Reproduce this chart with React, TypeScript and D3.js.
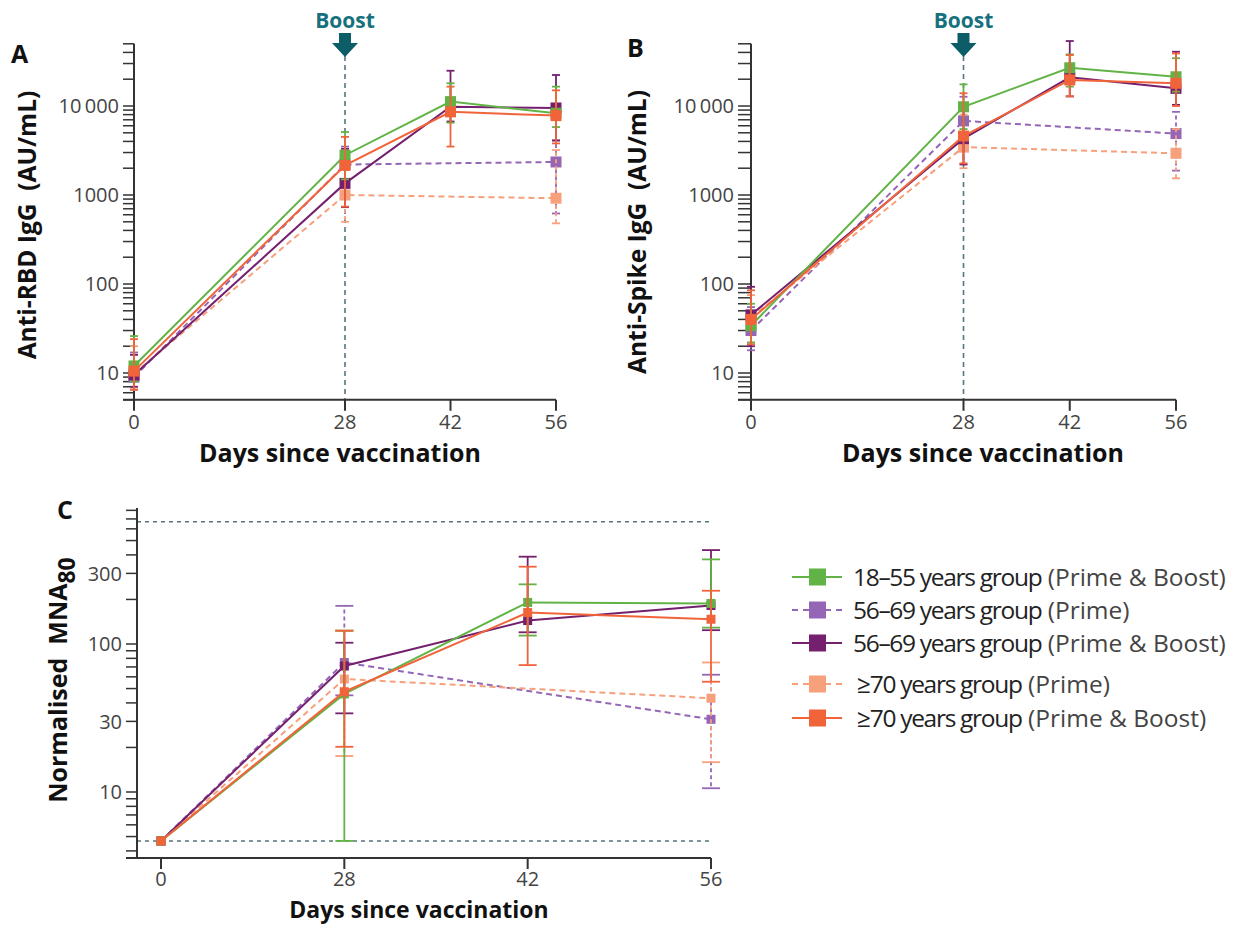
import React from 'react';
import * as d3 from 'd3';

// ---------- data ----------
const days = [0, 28, 42, 56];
const seriesLabels = ['18–55 years group', '56–69 years group', '56–69 years group', '≥70 years group', '≥70 years group'];
const seriesRegimen = ['(Prime & Boost)', '(Prime)', '(Prime & Boost)', '(Prime)', '(Prime & Boost)'];
const seriesColors = ['#62b346', '#9466b5', '#74206f', '#f7a07c', '#f1643a'];
const seriesDashed = [false, true, false, true, false];
const drawOrder = [1, 3, 2, 0, 4];

// Panel A: Anti-RBD IgG (AU/mL)
const rbdValue = [
  [12, 2800, 11200, 8300],
  [9, 2200, null, 2350],
  [9.5, 1350, 9800, 9500],
  [9.8, 1000, null, 920],
  [10.5, 2150, 8600, 7800],
];
const rbdLow = [
  [8, 1500, 6500, 5800],
  [6.5, 1300, null, 620],
  [7, 730, 6700, 4100],
  [6.5, 500, null, 480],
  [6.5, 740, 3500, 3800],
];
const rbdHigh = [
  [26, 5100, 18000, 16500],
  [17, 3500, null, 4100],
  [16, 3300, 24900, 22300],
  [20, 2000, null, 3200],
  [24, 4500, 16500, 15000],
];

// Panel B: Anti-Spike IgG (AU/mL)
const spikeValue = [
  [34, 9800, 26900, 21300],
  [30, 6800, null, 4900],
  [45, 4300, 21000, 15800],
  [42, 3450, null, 2940],
  [40, 4600, 19600, 18000],
];
const spikeLow = [
  [22, 5500, 16500, 14500],
  [18, 3500, null, 1880],
  [20, 2200, 12800, 10300],
  [22, 2000, null, 1540],
  [21, 2270, 12900, 10000],
];
const spikeHigh = [
  [60, 17500, 38000, 34400],
  [55, 12700, null, 8600],
  [93, 10000, 53700, 40700],
  [75, 8000, null, 5500],
  [85, 13900, 37400, 39000],
];

// Panel C: Normalised MNA80
const mnaValue = [
  [4.67, 46, 191, 188],
  [4.67, 75, null, 31],
  [4.67, 71, 144, 182],
  [4.67, 58, null, 43],
  [4.67, 47.6, 163, 147],
];
const mnaLow = [
  [4.67, 4.67, 114, 129],
  [4.67, 45, null, 10.6],
  [4.67, 34, 120, 124],
  [4.67, 17.5, null, 15.9],
  [4.67, 20.2, 72, 55.6],
];
const mnaHigh = [
  [4.67, 123, 253, 373],
  [4.67, 181, null, 62],
  [4.67, 102, 389, 431],
  [4.67, 123, null, 75],
  [4.67, 123, 333, 229],
];
const mnaLimits = [4.67, 670];

const igTickValues = [10, 100, 1000, 10000];
const igTickLabels = ['10', '100', '1000', '10\u2009000'];
const mnaTickValues = [10, 30, 100, 300];
const mnaTickLabels = ['10', '30', '100', '300'];
const boostDay = 28;

// ---------- helpers ----------
const FONT = "'Open Sans', 'Noto Sans', 'DejaVu Sans', sans-serif";
const AXIS = '#333';
const TEAL = '#0c5d68';
const REF = '#56747e';

function minorTicks(lo: number, hi: number) {
  const out: number[] = [];
  for (let k = -1; k < 7; k++) {
    for (let m = 1; m < 10; m++) {
      const v = m * Math.pow(10, k);
      if (v >= lo * 0.999 && v <= hi * 1.001) out.push(v);
    }
  }
  return out;
}

type PanelProps = {
  xOf: (i: number) => number;
  y: d3.ScaleLogarithmic<number, number>;
  yLo: number;
  yHi: number;
  axisX: number;
  tickLen: number;
  xAxisStart: number;
  xAxisEnd: number;
  values: (number | null)[][];
  lows: (number | null)[][];
  highs: (number | null)[][];
  capHalf: number;
  markerSize: number;
  tickValues: number[];
  tickLabels: string[];
  xLabelOffset: number;
};

function Panel(p: PanelProps) {
  const yBottom = p.y(p.yLo);
  const yTop = p.y(p.yHi);
  const ticks = minorTicks(p.yLo, p.yHi);
  const line = d3
    .line<[number, number]>()
    .x((d) => d[0])
    .y((d) => d[1]);
  return (
    <g>
      {/* y axis */}
      <line x1={p.axisX} x2={p.axisX} y1={yTop} y2={yBottom} stroke={AXIS} strokeWidth={2} />
      {ticks.map((t, i) => (
        <line key={i} x1={p.axisX - p.tickLen} x2={p.axisX} y1={p.y(t)} y2={p.y(t)} stroke={AXIS} strokeWidth={1.5} />
      ))}
      {p.tickValues.map((t, i) => (
        <text key={i} x={p.axisX - p.tickLen - 4} y={p.y(t)} dy="0.36em" textAnchor="end" fontFamily={FONT} fontSize={20} fill="#444">
          {p.tickLabels[i]}
        </text>
      ))}
      {/* x axis */}
      <line x1={p.xAxisStart} x2={p.xAxisEnd} y1={yBottom} y2={yBottom} stroke={AXIS} strokeWidth={2} />
      {days.map((d, i) => (
        <g key={d}>
          <line x1={p.xOf(i)} x2={p.xOf(i)} y1={yBottom} y2={yBottom + 11} stroke={AXIS} strokeWidth={2} />
          <text x={p.xOf(i)} y={yBottom + p.xLabelOffset} textAnchor="middle" fontFamily={FONT} fontSize={20} fill="#444">
            {d}
          </text>
        </g>
      ))}
      {/* series */}
      {drawOrder.map((s) => {
        const pts: [number, number][] = [];
        p.values[s].forEach((v, i) => {
          if (v != null) pts.push([p.xOf(i), p.y(v)]);
        });
        const dash = seriesDashed[s] ? '6,4' : undefined;
        const col = seriesColors[s];
        return (
          <g key={s}>
            <path d={line(pts) || ''} fill="none" stroke={col} strokeWidth={2} strokeDasharray={dash} />
            {p.values[s].map((v, i) => {
              if (v == null) return null;
              const lo = p.lows[s][i] as number;
              const hi = p.highs[s][i] as number;
              const x = p.xOf(i);
              return (
                <g key={i}>
                  {hi > v && (
                    <g>
                      <line x1={x} x2={x} y1={p.y(v)} y2={p.y(hi)} stroke={col} strokeWidth={1.8} strokeDasharray={seriesDashed[s] ? '4,3' : undefined} />
                      <line x1={x - p.capHalf} x2={x + p.capHalf} y1={p.y(hi)} y2={p.y(hi)} stroke={col} strokeWidth={1.8} />
                    </g>
                  )}
                  {lo < v && (
                    <g>
                      <line x1={x} x2={x} y1={p.y(v)} y2={p.y(lo)} stroke={col} strokeWidth={1.8} strokeDasharray={seriesDashed[s] ? '4,3' : undefined} />
                      <line x1={x - p.capHalf} x2={x + p.capHalf} y1={p.y(lo)} y2={p.y(lo)} stroke={col} strokeWidth={1.8} />
                    </g>
                  )}
                </g>
              );
            })}
            {p.values[s].map((v, i) =>
              v == null ? null : (
                <rect
                  key={'m' + i}
                  x={p.xOf(i) - p.markerSize / 2}
                  y={p.y(v) - p.markerSize / 2}
                  width={p.markerSize}
                  height={p.markerSize}
                  fill={col}
                />
              )
            )}
          </g>
        );
      })}
    </g>
  );
}

function Boost({ x, yBottom }: { x: number; yBottom: number }) {
  return (
    <g>
      <line x1={x} x2={x} y1={56} y2={yBottom} stroke={REF} strokeWidth={1.6} strokeDasharray="5,4" />
      <text x={x} y={28} textAnchor="middle" fontFamily={FONT} fontWeight={700} fontSize={21} fill="#17707e">
        Boost
      </text>
      <path d={`M${x - 6},33 H${x + 6} V43 H${x + 13} L${x},57 L${x - 13},43 H${x - 6} Z`} fill={TEAL} />
    </g>
  );
}

export default function App() {
  // Panel A
  const xA = d3.scaleLinear().domain([0, 56]).range([134, 556]);
  const yAB = d3.scaleLog().domain([10, 10000]).range([373, 106]);
  // Panel B
  const xB = d3.scaleLinear().domain([0, 56]).range([751, 1176]);
  // Panel C
  const xC = d3.scalePoint<number>().domain(days).range([161, 711]);
  const yC = d3.scaleLog().domain([10, 100]).range([792, 644]);
  const cLo = yC.invert(858);
  const cHi = yC.invert(508);

  const legendRows = [577, 610, 643, 684, 718];

  return (
    <svg width={1233} height={926} style={{ position: 'absolute', left: 0, top: 0, background: '#fff' }}>
      <rect width={1233} height={926} fill="#fff" />
      {/* Panel A */}
      <text x={11} y={63} fontFamily={FONT} fontWeight={700} fontSize={25} fill="#111">A</text>
      <Boost x={xA(boostDay)} yBottom={yAB(5)} />
      <Panel
        xOf={(i) => xA(days[i])}
        y={yAB}
        yLo={5}
        yHi={50000}
        axisX={134}
        tickLen={11}
        xAxisStart={123}
        xAxisEnd={556}
        values={rbdValue}
        lows={rbdLow}
        highs={rbdHigh}
        capHalf={4}
        markerSize={11}
        tickValues={igTickValues}
        tickLabels={igTickLabels}
        xLabelOffset={29}
      />
      <text transform="translate(36,225) rotate(-90)" textAnchor="middle" fontFamily={FONT} fontWeight={700} fontSize={24.5} fill="#111">
        Anti-RBD IgG{'\u00a0\u00a0'}(AU/mL)
      </text>
      <text x={340} y={462} textAnchor="middle" fontFamily={FONT} fontWeight={700} fontSize={25} fill="#111">
        Days since vaccination
      </text>

      {/* Panel B */}
      <text x={627} y={57} fontFamily={FONT} fontWeight={700} fontSize={25} fill="#111">B</text>
      <Boost x={xB(boostDay)} yBottom={yAB(5)} />
      <Panel
        xOf={(i) => xB(days[i])}
        y={yAB}
        yLo={5}
        yHi={50000}
        axisX={751}
        tickLen={13}
        xAxisStart={738}
        xAxisEnd={1176}
        values={spikeValue}
        lows={spikeLow}
        highs={spikeHigh}
        capHalf={4}
        markerSize={11}
        tickValues={igTickValues}
        tickLabels={igTickLabels}
        xLabelOffset={29}
      />
      <text transform="translate(646,232) rotate(-90)" textAnchor="middle" fontFamily={FONT} fontWeight={700} fontSize={24.5} fill="#111">
        Anti-Spike IgG{'\u00a0\u00a0'}(AU/mL)
      </text>
      <text x={983} y={462} textAnchor="middle" fontFamily={FONT} fontWeight={700} fontSize={25} fill="#111">
        Days since vaccination
      </text>

      {/* Panel C */}
      <text x={57} y={519} fontFamily={FONT} fontWeight={700} fontSize={25} fill="#111">C</text>
      {mnaLimits.map((v, i) => (
        <line key={i} x1={137} x2={711} y1={yC(v)} y2={yC(v)} stroke={REF} strokeWidth={1.6} strokeDasharray="4,4" />
      ))}
      <Panel
        xOf={(i) => xC(days[i]) as number}
        y={yC}
        yLo={cLo}
        yHi={cHi}
        axisX={137}
        tickLen={11}
        xAxisStart={126}
        xAxisEnd={711}
        values={mnaValue}
        lows={mnaLow}
        highs={mnaHigh}
        capHalf={9}
        markerSize={9}
        tickValues={mnaTickValues}
        tickLabels={mnaTickLabels}
        xLabelOffset={28}
      />
      <text transform="translate(67,680) rotate(-90)" textAnchor="middle" fontFamily={FONT} fontWeight={700} fontSize={25} fill="#111">
        Normalised{'\u00a0\u00a0'}MNA<tspan dy={8} fontSize={23}>80</tspan>
      </text>
      <text x={419} y={918} textAnchor="middle" fontFamily={FONT} fontWeight={700} fontSize={23} fill="#111">
        Days since vaccination
      </text>

      {/* Legend */}
      {seriesLabels.map((lab, i) => {
        const y = legendRows[i];
        return (
          <g key={i}>
            <line x1={792} x2={842} y1={y} y2={y} stroke={seriesColors[i]} strokeWidth={2} strokeDasharray={seriesDashed[i] ? '6,5' : undefined} />
            <rect x={809} y={y - 8.5} width={17} height={17} fill={seriesColors[i]} />
            <text x={i === 3 || i === 4 ? 857 : 853} y={y} dy="0.36em" fontFamily={FONT} fontSize={24.5} fill="#222">
              <tspan letterSpacing={-1.3}>{lab}</tspan>
              <tspan fill="#444"> {seriesRegimen[i]}</tspan>
            </text>
          </g>
        );
      })}
    </svg>
  );
}
